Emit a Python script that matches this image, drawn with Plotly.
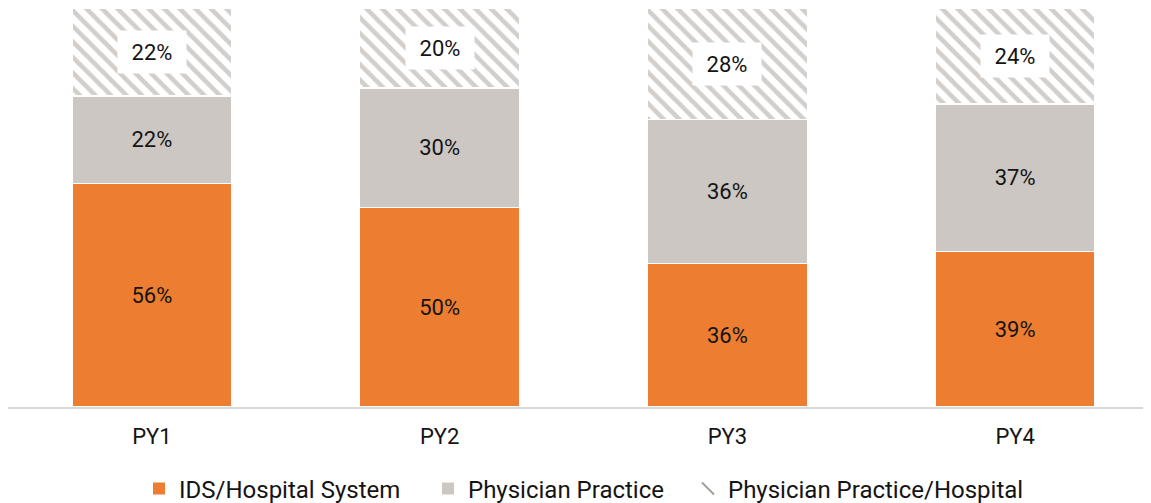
import plotly.graph_objects as go

categories = ["PY1", "PY2", "PY3", "PY4"]
ids_hospital = [56, 50, 36, 39]
physician_practice = [22, 30, 36, 37]
pp_hospital = [22, 20, 28, 24]

series_names = ["IDS/Hospital System", "Physician Practice", "Physician Practice/Hospital"]

ORANGE = "#ED7D31"
GRAY = "#CCC7C3"
HATCH = "#A59E98"
TXT = "#141414"
FONT = "Roboto"
BAR_W = 0.556

fig = go.Figure()

fig.add_trace(go.Bar(
    x=categories, y=ids_hospital, name=series_names[0], width=BAR_W,
    marker=dict(color=ORANGE, line=dict(color="white", width=1.5)),
    text=[f"{v}%" for v in ids_hospital], textposition="inside",
    insidetextanchor="middle", textfont=dict(size=22, color=TXT, family=FONT),
    showlegend=False,
))
fig.add_trace(go.Bar(
    x=categories, y=physician_practice, name=series_names[1], width=BAR_W,
    marker=dict(color=GRAY, line=dict(color="white", width=1.5)),
    text=[f"{v}%" for v in physician_practice], textposition="inside",
    insidetextanchor="middle", textfont=dict(size=22, color=TXT, family=FONT),
    showlegend=False,
))
fig.add_trace(go.Bar(
    x=categories, y=pp_hospital, name=series_names[2], width=BAR_W,
    marker=dict(color="white", line=dict(color="white", width=1.5),
                pattern=dict(shape="\\", fgcolor=HATCH, bgcolor="white",
                             size=11, solidity=0.42, fillmode="overlay")),
    showlegend=False,
))

# labels with white boxes on the hatched segment
for c, a, b, v in zip(categories, ids_hospital, physician_practice, pp_hospital):
    fig.add_annotation(
        x=c, y=a + b + v / 2, text=f"{v}%", showarrow=False,
        font=dict(size=22, color=TXT, family=FONT),
        bgcolor="white", width=66, height=40,
    )

# legend entries (one legend each, so each can be placed like the reference)
fig.add_trace(go.Scatter(x=[None], y=[None], mode="markers", name=series_names[0],
                         legend="legend",
                         marker=dict(symbol="square", size=9, color=ORANGE)))
fig.add_trace(go.Scatter(x=[None], y=[None], mode="markers", name=series_names[1],
                         legend="legend2",
                         marker=dict(symbol="square", size=9, color=GRAY)))
fig.add_trace(go.Scatter(x=[None], y=[None], mode="markers", name=series_names[2],
                         legend="legend3",
                         marker=dict(symbol="line-nw", size=5, color=HATCH,
                                     line=dict(color=HATCH, width=2))))

W, H = 1151, 503
legend_common = dict(orientation="h", xanchor="left", yref="container", xref="container",
                     y=0.044, yanchor="middle",
                     font=dict(size=24, family=FONT, color=TXT),
                     itemsizing="constant", itemwidth=30)
legend_x_px = [131, 420, 680]

fig.update_layout(
    barmode="stack",
    width=W, height=H,
    margin=dict(l=0, r=0, t=0, b=104),
    paper_bgcolor="white", plot_bgcolor="white",
    font=dict(family=FONT, size=22, color=TXT),
    xaxis=dict(range=[-0.5, 3.5], showgrid=False, zeroline=False,
               showline=True, linecolor="#D9D9D9", linewidth=2,
               ticks="", tickfont=dict(size=22, family=FONT, color=TXT),
               ticklabelstandoff=9),
    yaxis=dict(range=[0, 100], visible=False, showgrid=False, zeroline=False),
    legend=dict(x=legend_x_px[0] / W, **legend_common),
    legend2=dict(x=legend_x_px[1] / W, **legend_common),
    legend3=dict(x=legend_x_px[2] / W, **legend_common),
)

fig.write_html("out.html")
